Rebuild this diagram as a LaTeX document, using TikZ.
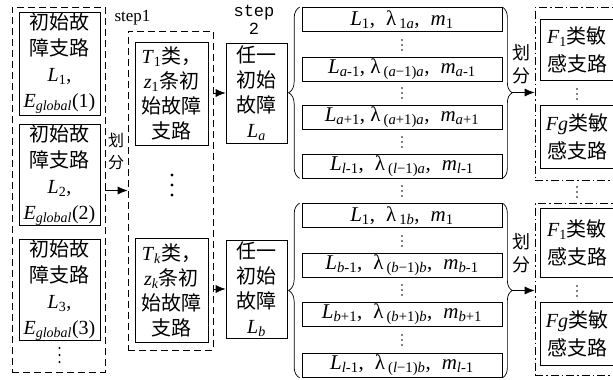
\documentclass[tikz,border=0pt]{standalone}
\usepackage{fontspec}
\setmainfont{Liberation Serif}
\setmonofont{Liberation Mono}
\newfontfamily\cjk{Noto Sans CJK SC}
\usetikzlibrary{arrows.meta,decorations.pathreplacing}
\newcommand{\iv}[1]{\textit{#1}}
\newcommand{\gap}{\hspace{11pt}}

\begin{document}
\begin{tikzpicture}[x=1pt, y=-1pt, line width=0.7pt,
        branchbox/.style={draw, inner sep=0pt, align=center, font=\fontsize{20}{26}\selectfont},
        groupbox/.style={draw, inner sep=0pt, dash pattern=on 7pt off 4pt},
        sensbox/.style={draw, inner sep=0pt, dash pattern=on 8pt off 3pt on 1.5pt off 3pt},
        rowbox/.style={draw, inner sep=0pt, minimum width=200, minimum height=24,
            font=\fontsize{21}{22}\selectfont},
        smalllab/.style={inner sep=0pt, align=center, font=\fontsize{17}{22}\selectfont},
        arrowline/.style={-{Latex[length=10pt,width=8pt]}},
        bracel/.style={decorate, decoration={brace, amplitude=11pt}},
        bracer/.style={decorate, decoration={brace, amplitude=10pt}}]
      \useasboundingbox (0,0) rectangle (613,380);
      \clip (0,0) rectangle (613,380);
      \node[groupbox, minimum width=93, minimum height=365] (LEFT) at (58.5,189.5) {};
      \node[branchbox, minimum width=81, minimum height=103] (B1) at (59.5,63.5)
            {{\cjk 初始故}\\{\cjk 障支路}\\\iv{L}\textsubscript{1},\\\iv{E}\textsubscript{\iv{global}}(1)};
      \node[branchbox, minimum width=81, minimum height=100] (B2) at (59.5,175)
            {{\cjk 初始故}\\{\cjk 障支路}\\\iv{L}\textsubscript{2},\\\iv{E}\textsubscript{\iv{global}}(2)};
      \node[branchbox, minimum width=81, minimum height=100] (B3) at (59.5,290)
            {{\cjk 初始故}\\{\cjk 障支路}\\\iv{L}\textsubscript{3},\\\iv{E}\textsubscript{\iv{global}}(3)};
      \node[smalllab, font=\fontsize{16}{22}\selectfont] (DIV1) at (116,151) {{\cjk 划}\\{\cjk 分}};
      \node[smalllab] (STEP1) at (132.5,18) {step1};
      \node[groupbox, minimum width=85, minimum height=319] (S1) at (170.5,190.5) {};
      \draw[arrowline] (LEFT.east |- S1) -- (S1.west);
      \node[branchbox, font=\fontsize{20}{25}\selectfont, minimum width=73, minimum height=103] (T1) at (171.5,93.5)
            {\iv{T}\textsubscript{1}{\cjk 类，}\\\iv{z}\textsubscript{1}{\cjk 条初}\\{\cjk 始故障}\\{\cjk 支路}};
      \node[branchbox, font=\fontsize{20}{25}\selectfont, minimum width=73, minimum height=104] (TK) at (171.5,290)
            {\iv{T}\textsubscript{\iv{k}}{\cjk 类，}\\\iv{z}\textsubscript{\iv{k}}{\cjk 条初}\\{\cjk 始故障}\\{\cjk 支路}};
      \node[smalllab, font=\ttfamily\fontsize{17}{18}\selectfont] (STEP2) at (254,20) {step\\2};
      \node[branchbox, font=\fontsize{20}{25}\selectfont, minimum width=61, minimum height=100] (LA) at (256.5,93)
            {{\cjk 任一}\\{\cjk 初始}\\{\cjk 故障}\\\iv{L}\textsubscript{\iv{a}}};
      \node[branchbox, font=\fontsize{20}{25}\selectfont, minimum width=61, minimum height=98] (LB) at (256.5,289)
            {{\cjk 任一}\\{\cjk 初始}\\{\cjk 故障}\\\iv{L}\textsubscript{\iv{b}}};
      \draw[arrowline] (S1.east |- LA) -- (LA.west);
      \draw[arrowline] (S1.east |- LB) -- (LB.west);
      \node[rowbox] (RA1) at (402,19.5)
            {\iv{L}\textsubscript{1},\gap λ\hspace{3pt}\textsubscript{1\iv{a}},\gap\iv{m}\textsubscript{1}};
      \node[rowbox] (RA2) at (402,69)
            {\iv{L}\textsubscript{\iv{a}-1}, λ\hspace{3pt}\textsubscript{(\iv{a}−1)\iv{a}},\gap\iv{m}\textsubscript{\iv{a}-1}};
      \node[rowbox] (RA3) at (402,117)
            {\iv{L}\textsubscript{\iv{a}+1}, λ\hspace{3pt}\textsubscript{(\iv{a}+1)\iv{a}},\gap\iv{m}\textsubscript{\iv{a}+1}};
      \node[rowbox] (RA4) at (402,166)
            {\iv{L}\textsubscript{\iv{l}-1},\gap λ\hspace{3pt}\textsubscript{(\iv{l}−1)\iv{a}},\gap\iv{m}\textsubscript{\iv{l}-1}};
      \node[rowbox] (RB1) at (402,215.5)
            {\iv{L}\textsubscript{1},\gap λ\hspace{3pt}\textsubscript{1\iv{b}},\gap\iv{m}\textsubscript{1}};
      \node[rowbox] (RB2) at (402,265)
            {\iv{L}\textsubscript{\iv{b}-1},\gap λ\hspace{3pt}\textsubscript{(\iv{b}−1)\iv{b}},\gap\iv{m}\textsubscript{\iv{b}-1}};
      \node[rowbox] (RB3) at (402,314)
            {\iv{L}\textsubscript{\iv{b}+1},\gap λ\hspace{3pt}\textsubscript{(\iv{b}+1)\iv{b}},\gap\iv{m}\textsubscript{\iv{b}+1}};
      \node[rowbox] (RB4) at (402,365.5)
            {\iv{L}\textsubscript{\iv{l}-1},\gap λ\hspace{3pt}\textsubscript{(\iv{l}−1)\iv{b}},\gap\iv{m}\textsubscript{\iv{l}-1}};
      \draw[bracel] ([xshift=-2pt]RA4.south west) -- ([xshift=-2pt]RA1.north west);
      \draw[bracel] ([xshift=-2pt]RB4.south west) -- ([xshift=-2pt]RB1.north west);
      \draw[bracer] (RA1.north east) -- (RA4.south east);
      \draw[bracer] (RB1.north east) -- (RB4.south east);
      \coordinate (TIPA) at (512,92.5);
      \coordinate (TIPB) at (512,290.5);
      \node[smalllab, font=\fontsize{18}{23}\selectfont] (DIVA) at (521,64) {{\cjk 划}\\{\cjk 分}};
      \node[smalllab, font=\fontsize{18}{23}\selectfont] (DIVB) at (521,253) {{\cjk 划}\\{\cjk 分}};
      \node[sensbox, minimum width=90, minimum height=173] (FA) at (580,93.5) {};
      \node[sensbox, minimum width=90, minimum height=172] (FB) at (580,289) {};
      \draw[arrowline] (TIPA) -- (TIPA -| FA.west);
      \draw[arrowline] (TIPB) -- (TIPB -| FB.west);
      \node[branchbox, font=\fontsize{20}{28}\selectfont, minimum width=74, minimum height=61] (FA1) at (577,49.5)
            {\iv{F}\textsubscript{1}{\cjk 类敏}\\{\cjk 感支路}};
      \node[branchbox, font=\fontsize{20}{28}\selectfont, minimum width=74, minimum height=63] (FAG) at (577,136.5)
            {\iv{Fg}{\cjk 类敏}\\{\cjk 感支路}};
      \node[branchbox, font=\fontsize{20}{28}\selectfont, minimum width=74, minimum height=69] (FB1) at (577,243)
            {\iv{F}\textsubscript{1}{\cjk 类敏}\\{\cjk 感支路}};
      \node[branchbox, font=\fontsize{20}{28}\selectfont, minimum width=74, minimum height=63] (FBG) at (577,333.5)
            {\iv{Fg}{\cjk 类敏}\\{\cjk 感支路}};
      \foreach \x/\y in {402/45, 402/93, 402/142, 402/191, 402/241, 402/290, 402/340,
                         577/94, 577/192, 577/291}
        \foreach \k in {-1,0,1}
          \fill (\x,\y+5*\k) circle (0.9);
      \foreach \k in {-1,0,1} {
        \fill (59.5,355+7*\k) circle (1.1);
        \fill (172,185+10*\k) circle (1.7);
      }
    \end{tikzpicture}
\end{document}
